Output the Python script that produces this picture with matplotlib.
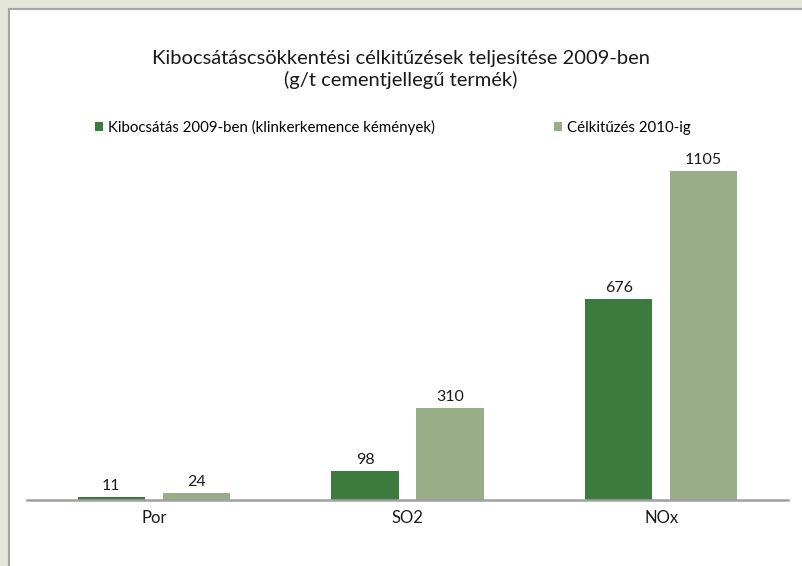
import numpy as np
import matplotlib.pyplot as plt
from matplotlib.patches import Rectangle

categories = ["Por", "SO2", "NOx"]
kibocsatas_2009 = [11, 98, 676]
celkituzes_2010 = [24, 310, 1105]
series_names = ["Kibocsátás 2009-ben (klinkerkemence kémények)", "Célkitűzés 2010-ig"]

DARK = "#3b7b3d"
LIGHT = "#97ae89"
plt.rcParams["font.family"] = ["Lato", "DejaVu Sans"]

fig = plt.figure(figsize=(8.02, 5.66), dpi=100)
fig.patch.set_facecolor("white")

# outer grey frame (top and left strips)
W, H = 802, 566
fig.add_artist(Rectangle((0, 1 - 8 / H), 1, 8 / H, transform=fig.transFigure,
                         facecolor="#e4e6dd", edgecolor="none", zorder=0))
fig.add_artist(Rectangle((0, 0), 8 / W, 1, transform=fig.transFigure,
                         facecolor="#e4e6dd", edgecolor="none", zorder=0))
fig.add_artist(plt.Line2D([8.5 / W, 1], [1 - 8.5 / H] * 2, transform=fig.transFigure,
                          color="#a4a6a0", lw=1.5))
fig.add_artist(plt.Line2D([8.5 / W] * 2, [0, 1 - 8.5 / H], transform=fig.transFigure,
                          color="#a4a6a0", lw=1.5))

# axes: baseline at y=500 px, x from 27 to 788 px
ymax = 1200
px_per_unit = (500 - 171) / 1105
top_px = 500 - ymax * px_per_unit
ax = fig.add_axes([27 / W, 1 - 500 / H, (788 - 27) / W, (500 - top_px) / H])
ax.set_xlim(-0.5, 2.5)
ax.set_ylim(0, ymax)

x = np.arange(len(categories))
bw = 0.265
off = 0.1675
b1 = ax.bar(x - off, kibocsatas_2009, bw, color=DARK, label=series_names[0])
b2 = ax.bar(x + off, celkituzes_2010, bw, color=LIGHT, label=series_names[1])

for bars, vals in ((b1, kibocsatas_2009), (b2, celkituzes_2010)):
    for rect, v in zip(bars, vals):
        ax.text(rect.get_x() + rect.get_width() / 2, v + 12, str(v),
                ha="center", va="bottom", fontsize=11.5, color="#1a1a1a")

for s in ["top", "right", "left"]:
    ax.spines[s].set_visible(False)
ax.spines["bottom"].set_color("#a0a0a0")
ax.spines["bottom"].set_linewidth(1.8)
ax.set_yticks([])
ax.set_xticks(x)
ax.set_xticklabels(categories, fontsize=12, color="#1a1a1a")
ax.tick_params(axis="x", length=0, pad=7)

fig.text(0.5, 1 - 58 / H, "Kibocsátáscsökkentési célkitűzések teljesítése 2009-ben",
         ha="center", va="center", fontsize=14.5, color="#1a1a1a")
fig.text(0.5, 1 - 80 / H, "(g/t cementjellegű termék)",
         ha="center", va="center", fontsize=14.5, color="#1a1a1a")

leg = fig.legend(handles=[b1, b2], labels=series_names, loc="center",
                 bbox_to_anchor=((401 - 8) / W, 1 - 127 / H), ncol=2, frameon=False,
                 fontsize=10.8, handlelength=0.55, handleheight=0.55,
                 handletextpad=0.35, columnspacing=7.9)

fig.savefig("out.png", dpi=100)
